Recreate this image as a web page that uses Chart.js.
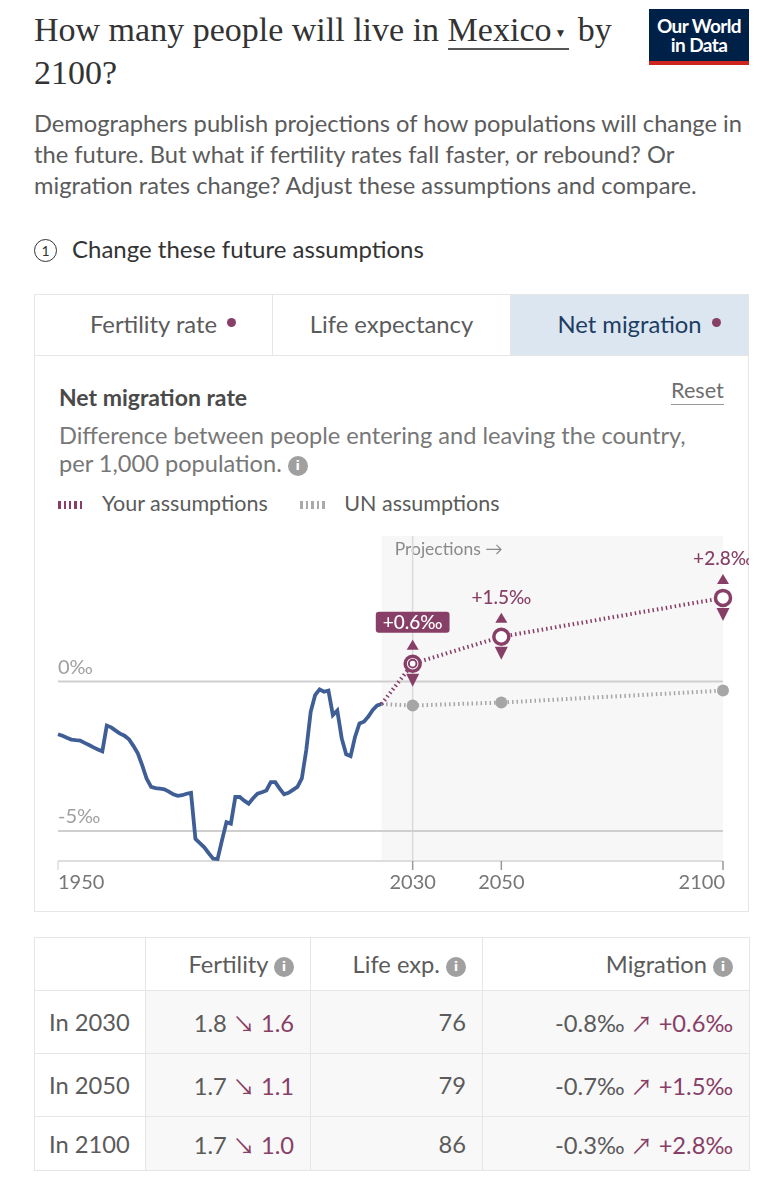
<!DOCTYPE html>
<html>
<head>
<meta charset="utf-8">
<script src="https://cdn.jsdelivr.net/npm/chart.js@4.4.1/dist/chart.umd.min.js"></script>
<style>
  body { margin: 0; background: #fff; font-family: Lato, "Noto Sans", sans-serif; color: #5b5b5b; }
  .page { position: relative; width: 783px; height: 1200px; overflow: hidden; }
  .abs { position: absolute; white-space: nowrap; }
  h1 { position: absolute; left: 34px; top: 10px; margin: 0; width: 600px;
       font: 400 34px/40px "Liberation Serif", "DejaVu Serif", serif; color: #333; }
  h1 .country { border-bottom: 2px solid #555; }
  h1 .caret { font-size: 12px; vertical-align: 4px; margin: 0 3px 0 3px; }
  .logo { left: 649px; top: 9px; width: 100px; height: 56px; background: #002147;
          border-bottom: 4px solid #ce261e; color: #fff; text-align: center; box-sizing: border-box;
          font: 700 19px/19px Lato, sans-serif; letter-spacing: -0.6px; padding-top: 7px; }
  .sub { left: 34px; top: 108px; font-size: 23.7px; line-height: 31px; color: #5b5b5b; }
  .step { left: 34px; top: 234px; font-size: 24px; color: #333; }
  .step .num { display: inline-block; width: 21px; height: 21px; border: 1.5px solid #333; border-radius: 50%;
               font-size: 14px; line-height: 21px; text-align: center; vertical-align: 2px; margin-right: 15px; }
  .panel { left: 34px; top: 294px; width: 713px; height: 616px; border: 1px solid #e6e6e6; }
  .tabs { display: flex; height: 60px; border-bottom: 1px solid #e6e6e6; }
  .tab { flex: 1; text-align: center; font-size: 23.8px; line-height: 58px; color: #5b5b5b; border-right: 1px solid #e6e6e6; }
  .tab:last-child { border-right: none; background: #dce6f0; color: #1d3d63; }
  .dot { display: inline-block; width: 9px; height: 9px; border-radius: 50%; background: #883f67; vertical-align: 6px;
         margin-left: 10px; margin-right: -19px; }
  .ptitle { left: 59px; top: 383px; font-size: 23px; font-weight: 700; color: #4a4a4a; }
  .reset { left: 671px; top: 377px; font-size: 21.7px; color: #6e6e6e; border-bottom: 1px solid #999; line-height: 27px; }
  .desc { left: 59px; top: 421px; font-size: 23.6px; line-height: 28px; color: #777; }
  .info { display: inline-block; width: 20px; height: 20px; border-radius: 50%; background: #a0a0a0; color: #fff;
          font: 700 13px/20px "DejaVu Sans", sans-serif; text-align: center; vertical-align: 2px; }
  .legend { left: 58px; top: 490px; font-size: 21.5px; color: #5b5b5b; }
  .sw { display: inline-block; width: 25px; height: 8px; margin-right: 19px; vertical-align: 2px; }
  #chart { position: absolute; left: 35px; top: 530px; }
  table { position: absolute; left: 34px; top: 937px; width: 715px; border-collapse: collapse; table-layout: fixed; font-size: 23.7px; }
  td, th { border: 1px solid #e6e6e6; padding: 0 16px; text-align: right; font-weight: 400; color: #5b5b5b; white-space: nowrap; }
  th { height: 52px; }
  td { height: 62px; background: #f8f8f8; }
  tr:last-child td { height: 53px; }
  td:first-child { text-align: left; background: #fff; padding-left: 14px; }
  .up { color: #883f67; }
  .arrow { font-family: "Noto Sans CJK SC", "DejaVu Sans", sans-serif; font-size: 22px; }
</style>
</head>
<body>
<div class="page">
  <h1>How many people will live in <span class="country">Mexico<span class="caret">▼</span></span> by 2100?</h1>
  <div class="abs logo">Our World<br>in Data</div>
  <div class="abs sub">Demographers publish projections of how populations will change in<br>the future. But what if fertility rates fall faster, or rebound? Or<br>migration rates change? Adjust these assumptions and compare.</div>
  <div class="abs step"><span class="num">1</span>Change these future assumptions</div>

  <div class="abs panel">
    <div class="tabs">
      <div class="tab">Fertility rate<span class="dot"></span></div>
      <div class="tab">Life expectancy</div>
      <div class="tab">Net migration<span class="dot"></span></div>
    </div>
  </div>
  <div class="abs ptitle">Net migration rate</div>
  <div class="abs reset">Reset</div>
  <div class="abs desc">Difference between people entering and leaving the country,<br>per 1,000 population. <span class="info">i</span></div>
  <div class="abs legend">
    <span class="sw" style="background: repeating-linear-gradient(90deg, #883f67 0 2.5px, transparent 2.5px 5.5px);"></span>Your assumptions
    <span class="sw" style="margin-left: 27px; background: repeating-linear-gradient(90deg, #aaa 0 2.5px, transparent 2.5px 5.5px);"></span>UN assumptions
  </div>
  <canvas id="chart" width="714" height="375"></canvas>

  <table id="summary">
    <colgroup><col style="width:111px"><col style="width:165px"><col style="width:172px"><col style="width:267px"></colgroup>
  </table>
</div>

<script>
// historical net migration rate (‰), 1950-2023
const histYears = [];
for (let y = 1950; y <= 2023; y++) histYears.push(y);
const histValues = [
  -1.76, -1.81, -1.88, -1.94, -1.96, -1.97, -2.05, -2.12, -2.20, -2.27,
  -2.33, -1.47, -1.53, -1.64, -1.74, -1.81, -1.93, -2.15, -2.40, -2.80,
  -3.25, -3.52, -3.56, -3.58, -3.60, -3.68, -3.77, -3.82, -3.80, -3.75,
  -3.72, -5.26, -5.40, -5.54, -5.74, -5.92, -5.93, -5.30, -4.70, -4.75,
  -3.86, -3.86, -3.98, -4.08, -3.90, -3.75, -3.70, -3.64, -3.36, -3.36,
  -3.58, -3.77, -3.72, -3.62, -3.52, -3.24, -2.29, -1.01, -0.45, -0.26,
  -0.34, -0.30, -1.12, -0.97, -1.90, -2.43, -2.49, -1.85, -1.40, -1.34,
  -1.17, -0.95, -0.80, -0.75
];

// projection milestones
const projYears = [2030, 2050, 2100];
const yourValues = [0.6, 1.5, 2.8];
const unValues = [-0.8, -0.7, -0.3];
const selected = 0;

// axis labels
const yTicks = [0, -5];
const xTicks = [1950, 2030, 2050, 2100];

// table columns
const fertilityUN = [1.8, 1.7, 1.7];
const fertilityYour = [1.6, 1.1, 1.0];
const lifeExp = [76, 79, 86];

const purple = "#883f67";
const grey = "#a6a6a6";
const lastYear = histYears[histYears.length - 1];
const lastValue = histValues[histValues.length - 1];

function fmt(v) {
  return (v > 0 ? "+" : "") + v.toFixed(1) + "‰";
}

const overlay = {
  id: "overlay",
  beforeDatasetsDraw(chart) {
    const { ctx, chartArea, scales: { x, y } } = chart;
    const bottom = y.getPixelForValue(-6);
    ctx.save();
    // projection shading
    const x0 = x.getPixelForValue(lastYear);
    ctx.fillStyle = "#f7f7f7";
    ctx.fillRect(x0, chartArea.top, x.getPixelForValue(2100) - x0, bottom - chartArea.top);
    ctx.font = "17.5px Lato, sans-serif";
    ctx.fillStyle = "#8a8a8a";
    ctx.textBaseline = "middle";
    ctx.fillText("Projections →", x0 + 13, chartArea.top + 13);

    // vertical line at first projection year
    ctx.strokeStyle = "#dadada";
    ctx.lineWidth = 1.5;
    const xs = x.getPixelForValue(projYears[selected]);
    ctx.beginPath();
    ctx.moveTo(xs, chartArea.top);
    ctx.lineTo(xs, bottom);
    ctx.stroke();

    // horizontal gridlines
    ctx.strokeStyle = "#cfcfcf";
    ctx.lineWidth = 2;
    ctx.font = "20px Lato, sans-serif";
    ctx.textBaseline = "alphabetic";
    yTicks.forEach(t => {
      const py = y.getPixelForValue(t);
      ctx.beginPath();
      ctx.moveTo(chartArea.left, py);
      ctx.lineTo(chartArea.right, py);
      ctx.stroke();
      ctx.fillStyle = "#a0a0a0";
      ctx.fillText(t + "‰", chartArea.left, py - 8);
    });

    // bottom axis
    ctx.strokeStyle = "#dddddd";
    ctx.beginPath();
    ctx.moveTo(chartArea.left, bottom);
    ctx.lineTo(chartArea.right, bottom);
    ctx.stroke();
    ctx.fillStyle = "#777";
    ctx.textBaseline = "middle";
    xTicks.forEach((t, i) => {
      const px = x.getPixelForValue(t);
      ctx.strokeStyle = i === 0 ? "#dddddd" : "#999";
      ctx.lineWidth = 1.5;
      ctx.beginPath();
      ctx.moveTo(px, bottom);
      ctx.lineTo(px, bottom + 9);
      ctx.stroke();
      ctx.textAlign = i === 0 ? "left" : i === xTicks.length - 1 ? "right" : "center";
      ctx.fillText(String(t), i === 0 ? px : px + (i === xTicks.length - 1 ? 2 : 0), bottom + 22);
    });
    ctx.restore();
  },
  afterDatasetsDraw(chart) {
    const { ctx, scales: { x, y } } = chart;
    ctx.save();
    projYears.forEach((yr, i) => {
      const px = x.getPixelForValue(yr);
      const py = y.getPixelForValue(yourValues[i]);
      ctx.fillStyle = purple;
      // up / down handles
      ctx.beginPath();
      ctx.moveTo(px, py - 24);
      ctx.lineTo(px + 6, py - 14);
      ctx.lineTo(px - 6, py - 14);
      ctx.closePath();
      ctx.fill();
      ctx.beginPath();
      ctx.moveTo(px - 6.5, py + 10);
      ctx.lineTo(px + 6.5, py + 10);
      ctx.lineTo(px, py + 23);
      ctx.closePath();
      ctx.fill();
      // ring
      ctx.beginPath();
      ctx.arc(px, py, 7.5, 0, Math.PI * 2);
      ctx.fillStyle = "#fff";
      ctx.fill();
      ctx.lineWidth = 3.5;
      ctx.strokeStyle = purple;
      ctx.stroke();
      if (i === selected) {
        ctx.beginPath();
        ctx.arc(px, py, 3.8, 0, Math.PI * 2);
        ctx.lineWidth = 2;
        ctx.stroke();
      }
      // value label
      const label = fmt(yourValues[i]);
      ctx.font = "500 19px Lato, sans-serif";
      ctx.textAlign = "center";
      ctx.textBaseline = "middle";
      if (i === selected) {
        const w = ctx.measureText(label).width + 14;
        ctx.fillStyle = purple;
        ctx.beginPath();
        ctx.roundRect(px - w / 2, py - 52, w, 21, 3);
        ctx.fill();
        ctx.fillStyle = "#fff";
        ctx.fillText(label, px, py - 41);
      } else {
        ctx.fillStyle = purple;
        ctx.fillText(label, px, py - 39);
      }
    });
    ctx.restore();
  }
};

new Chart(document.getElementById("chart"), {
  type: "line",
  data: {
    datasets: [
      {
        label: "Your assumptions",
        data: [{ x: lastYear, y: lastValue }].concat(projYears.map((yr, i) => ({ x: yr, y: yourValues[i] }))),
        borderColor: purple,
        borderWidth: 4,
        borderDash: [1.5, 3],
        pointRadius: 0,
        clip: false
      },
      {
        label: "UN assumptions",
        data: [{ x: lastYear, y: lastValue }].concat(projYears.map((yr, i) => ({ x: yr, y: unValues[i] }))),
        borderColor: grey,
        borderWidth: 4,
        borderDash: [1.5, 3],
        pointRadius: [0, 6, 6, 6],
        pointBackgroundColor: grey,
        pointBorderWidth: 0,
        clip: false
      },
      {
        label: "Net migration rate",
        data: histYears.map((yr, i) => ({ x: yr, y: histValues[i] })),
        borderColor: "#3f5e95",
        borderWidth: 3.8,
        pointRadius: 0,
        tension: 0,
        clip: false
      }
    ]
  },
  options: {
    responsive: false,
    animation: false,
    layout: { padding: { left: 23, right: 26, top: 5, bottom: 44 } },
    plugins: { legend: { display: false }, tooltip: { enabled: false } },
    scales: {
      x: { type: "linear", min: 1950, max: 2100, display: false },
      y: { min: -6, max: 4.87, display: false }
    }
  },
  plugins: [overlay]
});

// summary table
const info = ' <span class="info">i</span>';
let html = "<tr><th></th><th>Fertility" + info + "</th><th>Life exp." + info + "</th><th>Migration" + info + "</th></tr>";
projYears.forEach((yr, i) => {
  html += "<tr><td>In " + yr + "</td>" +
    "<td>" + fertilityUN[i].toFixed(1) + ' <span class="up"><span class="arrow">↘</span> ' + fertilityYour[i].toFixed(1) + "</span></td>" +
    "<td>" + lifeExp[i] + "</td>" +
    "<td>" + fmt(unValues[i]) + ' <span class="up"><span class="arrow">↗</span> ' + fmt(yourValues[i]) + "</span></td></tr>";
});
document.getElementById("summary").insertAdjacentHTML("beforeend", html);
</script>
</body>
</html>
